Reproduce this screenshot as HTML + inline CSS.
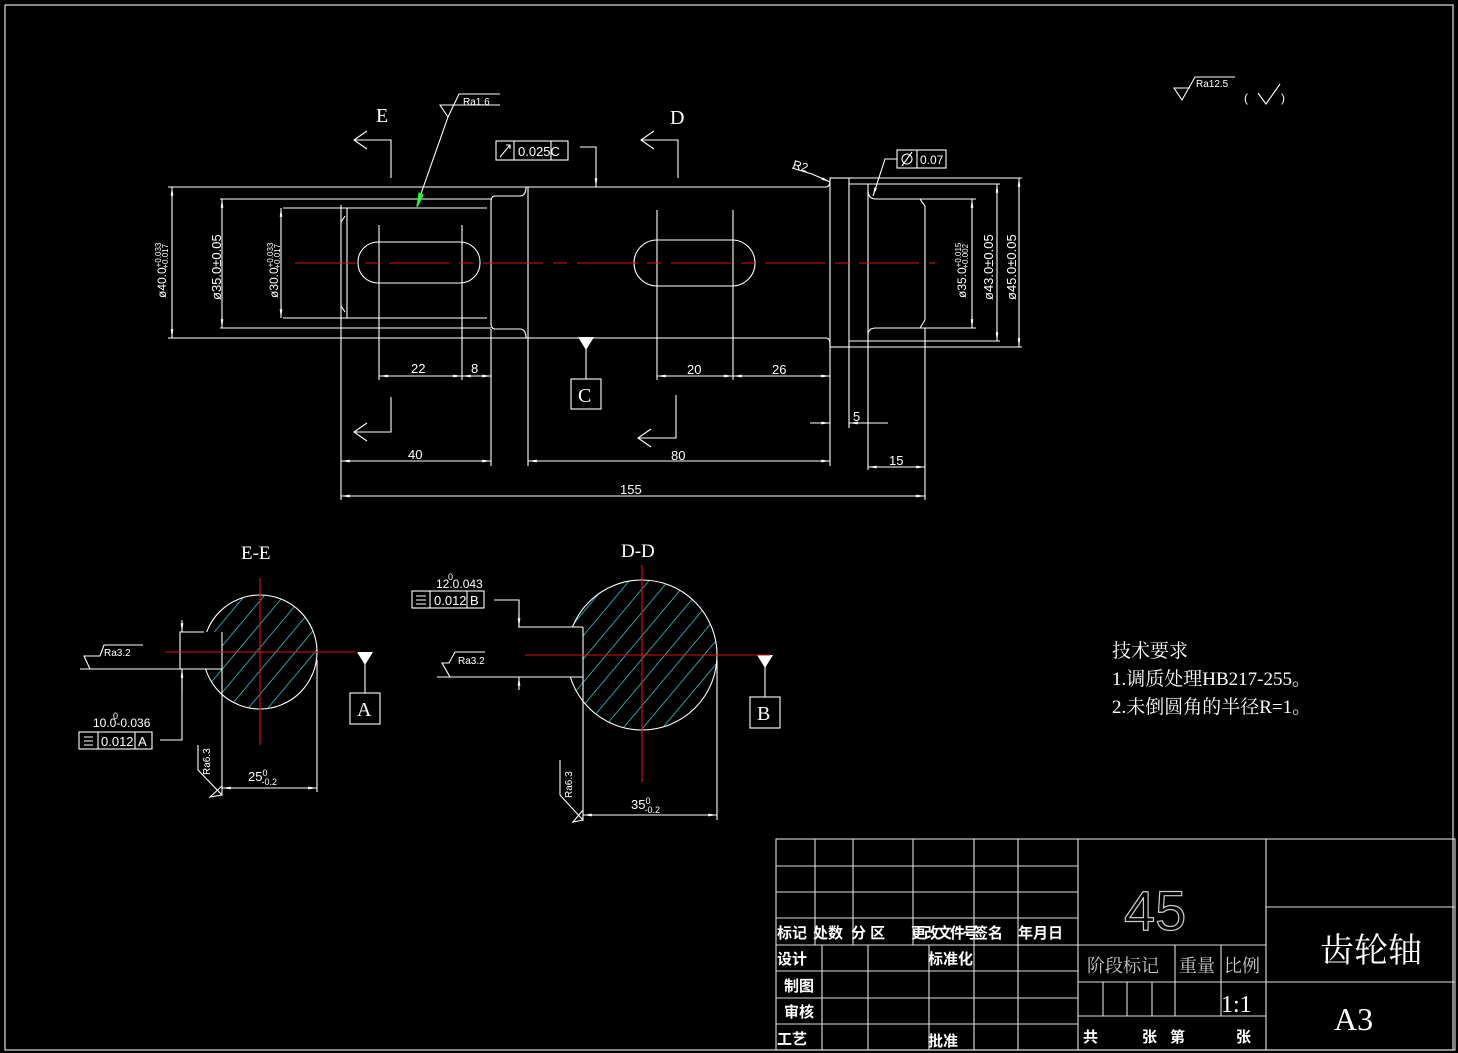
<!DOCTYPE html>
<html><head><meta charset="utf-8"><style>
html,body{margin:0;padding:0;background:#000;}
svg{display:block}
text{font-family:"Liberation Sans","Noto Sans CJK SC",sans-serif;fill:#fff}
.s{font-family:"Liberation Serif","Noto Serif CJK SC","Noto Sans CJK SC",serif}
</style></head><body>
<svg width="1458" height="1053" viewBox="0 0 1458 1053" xmlns="http://www.w3.org/2000/svg">
<defs>
<marker id="a" viewBox="0 0 10 10" refX="10" refY="5" markerWidth="8" markerHeight="8" orient="auto-start-reverse"><path d="M0,3.5L10,5L0,6.5z" fill="#fff"/></marker>
<pattern id="h" patternUnits="userSpaceOnUse" width="15" height="15" patternTransform="rotate(40)"><line x1="0" y1="0" x2="0" y2="15" stroke="#30e0f0" stroke-width="1.4"/></pattern>
</defs>
<rect x="5" y="5" width="1448" height="1045" fill="none" stroke="#ddd" stroke-width="1.2"/>
<g stroke="#fff" stroke-width="1.1" fill="none">
<line x1="168" y1="187" x2="526" y2="187"/>
<line x1="168" y1="338" x2="526" y2="338"/>
<path d="M526,187 L826,187 Q830,187 830,180"/>
<path d="M526,338 L826,338 Q830,338 830,345"/>
<path d="M526,187 Q526,196 520,196 L495,196 Q491,196 491,202 L491,323 Q491,329 495,329 L520,329 Q526,329 526,338"/>
<line x1="528" y1="187" x2="528" y2="338"/>
<line x1="220" y1="199" x2="491" y2="199"/>
<line x1="220" y1="328" x2="491" y2="328"/>
<line x1="283" y1="208" x2="487" y2="208"/>
<line x1="283" y1="318" x2="487" y2="318"/>
<path d="M345,216 L341,222 M345,312 L341,306"/>
<line x1="347" y1="208" x2="347" y2="318"/>
<rect x="830" y="178" width="19" height="169"/>
<line x1="849" y1="184" x2="868" y2="184"/><line x1="849" y1="341" x2="868" y2="341"/>
<line x1="868" y1="184" x2="868" y2="341"/>
<path d="M868,190 Q868,199 876,199 L920,199 L925,206 L925,320 L920,328 L876,328 Q868,328 868,335"/>
<line x1="849" y1="178" x2="1022" y2="178"/><line x1="849" y1="347" x2="1022" y2="347"/>
<line x1="868" y1="184" x2="1000" y2="184"/><line x1="868" y1="341" x2="1000" y2="341"/>
<line x1="920" y1="199" x2="976" y2="199"/><line x1="920" y1="328" x2="976" y2="328"/>
<rect x="358" y="242" width="122" height="41" rx="20"/>
<rect x="634" y="240" width="121" height="46" rx="23"/>
<line x1="341" y1="205" x2="341" y2="500"/>
<line x1="379" y1="225" x2="379" y2="380"/>
<line x1="462" y1="225" x2="462" y2="380"/>
<line x1="491" y1="329" x2="491" y2="466"/>
<line x1="528" y1="338" x2="528" y2="466"/>
<line x1="657" y1="210" x2="657" y2="380"/>
<line x1="733" y1="210" x2="733" y2="380"/>
<line x1="830" y1="345" x2="830" y2="466"/>
<line x1="849" y1="347" x2="849" y2="428"/>
<line x1="868" y1="341" x2="868" y2="470"/>
<line x1="925" y1="328" x2="925" y2="500"/>
<line x1="379" y1="376" x2="462" y2="376" marker-start="url(#a)" marker-end="url(#a)"/>
<line x1="462" y1="376" x2="491" y2="376" marker-start="url(#a)" marker-end="url(#a)"/>
<line x1="657" y1="376" x2="733" y2="376" marker-start="url(#a)" marker-end="url(#a)"/>
<line x1="733" y1="376" x2="830" y2="376" marker-start="url(#a)" marker-end="url(#a)"/>
<line x1="341" y1="461" x2="491" y2="461" marker-start="url(#a)" marker-end="url(#a)"/>
<line x1="528" y1="461" x2="830" y2="461" marker-start="url(#a)" marker-end="url(#a)"/>
<line x1="810" y1="423" x2="830" y2="423" marker-end="url(#a)"/>
<line x1="888" y1="423" x2="849" y2="423" marker-end="url(#a)"/>
<line x1="868" y1="467" x2="925" y2="467" marker-start="url(#a)" marker-end="url(#a)"/>
<line x1="341" y1="496" x2="925" y2="496" marker-start="url(#a)" marker-end="url(#a)"/>
<line x1="172" y1="187" x2="172" y2="338" marker-start="url(#a)" marker-end="url(#a)"/>
<line x1="222" y1="199" x2="222" y2="328" marker-start="url(#a)" marker-end="url(#a)"/>
<line x1="281" y1="208" x2="281" y2="318" marker-start="url(#a)" marker-end="url(#a)"/>
<line x1="972" y1="199" x2="972" y2="328" marker-start="url(#a)" marker-end="url(#a)"/>
<line x1="997" y1="184" x2="997" y2="341" marker-start="url(#a)" marker-end="url(#a)"/>
<line x1="1019" y1="178" x2="1019" y2="347" marker-start="url(#a)" marker-end="url(#a)"/>
<path d="M391,178 L391,140 L354,140 M367,131 L354,140 L367,149"/>
<path d="M391,397 L391,432 L354,432 M367,423 L354,432 L367,441"/>
<path d="M678,178 L678,140 L641,140 M654,131 L641,140 L654,149"/>
<path d="M676,395 L676,438 L638,438 M651,429 L638,438 L651,447"/>
<line x1="586" y1="348" x2="586" y2="379"/>
<rect x="571" y="379" width="30" height="30"/>
<rect x="496" y="141" width="72" height="19"/><line x1="514" y1="141" x2="514" y2="160"/><line x1="551" y1="141" x2="551" y2="160"/>
<path d="M500,157 L510,145 M506,145 L510,145 L510,149"/>
<path d="M580,147 L596,147 L596,187" marker-end="url(#a)"/>
<path d="M500,94 L459,94 L448,117 L440,105 L462,105 M462,105 L500,105"/>
<path d="M448,117 L417,205"/>
<path d="M419,193 L417,207 L423,195z" fill="#2f2" stroke="#2f2"/>
<path d="M792,168 L812,174 L830,182" marker-end="url(#a)"/>
<rect x="897" y="150" width="49" height="18"/><line x1="917" y1="150" x2="917" y2="168"/>
<circle cx="907" cy="159" r="5"/><line x1="902" y1="166" x2="912" y2="152"/>
<path d="M897,159 L885,159 L873,196" marker-end="url(#a)"/>
<path d="M1235,77 L1195,77 L1182,100 L1174,88 L1190,88"/>
<path d="M1258,93 L1266,104 L1280,84"/>
<ellipse cx="260" cy="652" rx="57" ry="57" fill="url(#h)"/>
<rect x="180" y="632" width="42" height="37" fill="#000" stroke="none"/>
<path d="M204,632 L180,632 L180,669 L204,669 M222,632 L222,669"/>
<line x1="222" y1="669" x2="222" y2="795"/>
<line x1="317" y1="660" x2="317" y2="792"/>
<line x1="222" y1="788" x2="317" y2="788" marker-start="url(#a)" marker-end="url(#a)"/>
<path d="M80,669 L222,669 M90,669 L84,656 L100,656 L104,645 L143,645"/>
<path d="M198,745 L198,770 L222,795 L210,797 L222,786"/>
<line x1="182" y1="620" x2="182" y2="632" marker-end="url(#a)"/>
<line x1="182" y1="690" x2="182" y2="669" marker-end="url(#a)"/>
<path d="M182,669 L182,740 L160,740"/>
<rect x="79" y="732" width="73" height="17"/><line x1="98" y1="732" x2="98" y2="749"/><line x1="135" y1="732" x2="135" y2="749"/>
<path d="M84,737 L93,737 M84,741 L93,741 M84,745 L93,745"/>
<line x1="365" y1="664" x2="365" y2="693"/>
<rect x="350" y="693" width="30" height="31"/>
<ellipse cx="642" cy="655" rx="75" ry="75" fill="url(#h)"/>
<rect x="520" y="627" width="63" height="50" fill="#000" stroke="none"/>
<path d="M583,627 L518,627 M583,677 L437,677 M583,627 L583,820"/>
<line x1="717" y1="660" x2="717" y2="820"/>
<line x1="583" y1="815" x2="717" y2="815" marker-start="url(#a)" marker-end="url(#a)"/>
<path d="M437,677 L450,677 L442,663 L449,663 L455,652 L485,652 M445,677 L450,677"/>
<path d="M560,760 L560,795 L583,820 L573,822 L583,810"/>
<line x1="519" y1="614" x2="519" y2="627" marker-end="url(#a)"/>
<line x1="519" y1="690" x2="519" y2="677" marker-end="url(#a)"/>
<path d="M519,627 L519,600 L494,600"/>
<rect x="412" y="591" width="72" height="17"/><line x1="430" y1="591" x2="430" y2="608"/><line x1="467" y1="591" x2="467" y2="608"/>
<path d="M416,596 L426,596 M416,600 L426,600 M416,604 L426,604"/>
<line x1="765" y1="666" x2="765" y2="697"/>
<rect x="750" y="697" width="30" height="31"/>
</g>
<g fill="#fff">
<path d="M578,337 L594,337 L586,350z"/>
<path d="M357,652 L373,652 L365,665z"/>
<path d="M757,655 L773,655 L765,668z"/>
</g>
<g stroke="#e01010" stroke-width="1.1">
<line x1="295" y1="263" x2="935" y2="263" stroke-dasharray="60,10,14,10"/>
<line x1="165" y1="652" x2="355" y2="652"/>
<line x1="260" y1="578" x2="260" y2="745"/>
<line x1="525" y1="655" x2="770" y2="655"/>
<line x1="642" y1="565" x2="642" y2="782"/>
</g>
<g font-size="13">
<text x="411" y="373">22</text><text x="471" y="373">8</text>
<text x="687" y="374">20</text><text x="772" y="374">26</text>
<text x="408" y="459">40</text><text x="671" y="460">80</text>
<text x="853" y="421">5</text><text x="889" y="465">15</text>
<text x="620" y="494">155</text>
<text x="518" y="156">0.025C</text>
<text x="920" y="164" font-size="12">0.07</text>
<text x="792" y="168" font-size="12" transform="rotate(15 792 168)">R2</text>
<text x="463" y="105" font-size="10">Ra1.6</text>
<text x="1196" y="87" font-size="10">Ra12.5</text>
<text x="1244" y="102" font-size="12">(</text><text x="1281" y="102" font-size="12">)</text>
<text x="104" y="656" font-size="10">Ra3.2</text>
<text x="458" y="664" font-size="10">Ra3.2</text>
<text x="210" y="775" font-size="10" transform="rotate(-90 210 775)">Ra6.3</text>
<text x="572" y="798" font-size="10" transform="rotate(-90 572 798)">Ra6.3</text>
<text x="248" y="781">25<tspan font-size="9" dy="-5">0</tspan><tspan font-size="9" dx="-6" dy="9">-0.2</tspan></text>
<text x="631" y="809">35<tspan font-size="9" dy="-5">0</tspan><tspan font-size="9" dx="-6" dy="9">-0.2</tspan></text>
<text x="93" y="727" font-size="12">10.0-0.036</text><text x="113" y="719" font-size="9">0</text>
<text x="436" y="588" font-size="12">12.0.043</text><text x="448" y="580" font-size="9">0</text>
<text x="101" y="746">0.012</text><text x="138" y="746">A</text>
<text x="434" y="605">0.012</text><text x="470" y="605">B</text>
</g>
<g font-size="12">
<text transform="translate(166,298) rotate(-90)">ø40.0<tspan font-size="8" dy="-5">+0.033</tspan><tspan font-size="8" dx="-26" dy="7">+0.017</tspan></text>
<text transform="translate(221,300) rotate(-90)" font-size="13">ø35.0±0.05</text>
<text transform="translate(278,298) rotate(-90)">ø30.0<tspan font-size="8" dy="-5">+0.033</tspan><tspan font-size="8" dx="-26" dy="7">+0.017</tspan></text>
<text transform="translate(966,298) rotate(-90)">ø35.0<tspan font-size="8" dy="-5">+0.015</tspan><tspan font-size="8" dx="-26" dy="7">+0.002</tspan></text>
<text transform="translate(993,300) rotate(-90)" font-size="13">ø43.0±0.05</text>
<text transform="translate(1016,300) rotate(-90)" font-size="13">ø45.0±0.05</text>
</g>
<g font-size="20">
<text class="s" x="376" y="122">E</text>
<text class="s" x="670" y="124">D</text>
<text class="s" x="578" y="402">C</text>
<text class="s" x="357" y="716">A</text>
<text class="s" x="757" y="720">B</text>
<text class="s" x="241" y="559" font-size="19">E-E</text>
<text class="s" x="621" y="557" font-size="19">D-D</text>
<text class="s" x="1112" y="657" font-size="19">技术要求</text>
<text class="s" x="1112" y="685" font-size="19">1.调质处理HB217-255。</text>
<text class="s" x="1112" y="713" font-size="19">2.未倒圆角的半径R=1。</text>
</g>
<g stroke="#ddd" stroke-width="1.1" fill="none">
<rect x="776" y="839" width="679" height="211"/>
<line x1="1078" y1="839" x2="1078" y2="1050"/>
<line x1="1266" y1="839" x2="1266" y2="1050"/>
<path d="M776,866H1078M776,892H1078M776,918H1078M776,945H1078M776,971H1078M776,998H1078M776,1024H1078"/>
<path d="M815,839V945M853,839V945M913,839V945M974,839V945M1018,839V945"/>
<path d="M822,945V1050M868,945V1050M929,945V1050M974,945V1050M1018,945V1050"/>
<path d="M1078,945H1266M1078,982H1266M1078,1016H1266M1175,945V1016M1221,945V1016M1103,982V1016M1127,982V1016M1152,982V1016"/>
<path d="M1266,907H1455M1266,982H1455"/>
</g>
<g font-size="15" font-weight="bold" font-family="'Noto Sans CJK SC',sans-serif">
<text x="777" y="938">标记</text><text x="813" y="938">处数</text><text x="851" y="938">分 区</text>
<text x="911" y="938" letter-spacing="-2">更改文件号</text><text x="973" y="938">签名</text><text x="1018" y="938">年月日</text>
<text x="777" y="964">设计</text><text x="928" y="964">标准化</text>
<text x="784" y="991">制图</text><text x="784" y="1017">审核</text>
<text x="777" y="1044">工艺</text><text x="928" y="1046">批准</text>
<text x="1083" y="1042">共</text><text x="1142" y="1042">张</text><text x="1170" y="1042">第</text><text x="1236" y="1042">张</text>
</g>
<g>
<text class="s" x="1087" y="972" font-size="18" style="fill:#ccc">阶段标记</text>
<text class="s" x="1179" y="972" font-size="18" style="fill:#ccc">重量</text>
<text class="s" x="1224" y="972" font-size="18" style="fill:#ccc">比例</text>
<text class="s" x="1221" y="1012" font-size="24">1:1</text>
<text class="s" x="1320" y="962" font-size="34">齿轮轴</text>
<text class="s" x="1334" y="1030" font-size="32">A3</text>
</g>
<text x="1124" y="930" font-size="56" style="fill:none;stroke:#ccc;stroke-width:1.2" font-family="Liberation Sans,sans-serif">45</text>
</svg>
</body></html>
